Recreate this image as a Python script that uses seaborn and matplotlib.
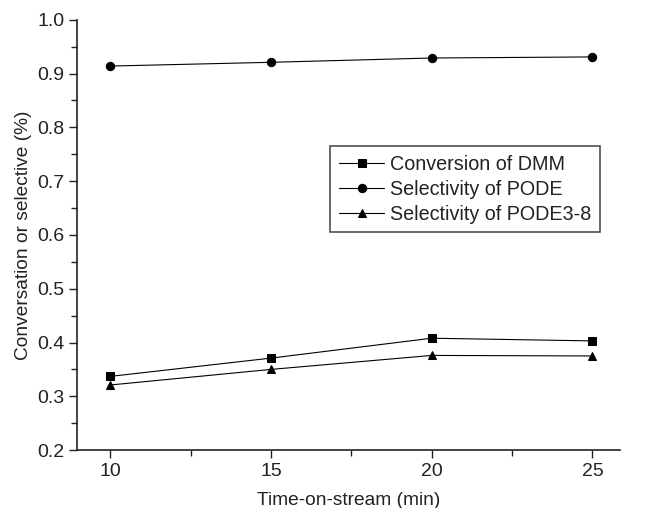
import matplotlib
matplotlib.use("Agg")
import matplotlib.pyplot as plt
import seaborn as sns
import pandas as pd
from matplotlib.ticker import MultipleLocator

time_min = [10, 15, 20, 25]
conversion_dmm = [0.337, 0.371, 0.408, 0.403]
selectivity_pode = [0.914, 0.921, 0.929, 0.931]
selectivity_pode38 = [0.321, 0.350, 0.376, 0.375]
series_names = ["Conversion of DMM", "Selectivity of PODE", "Selectivity of PODE3-8"]

df = pd.concat([
    pd.DataFrame({"time": time_min, "value": conversion_dmm, "series": series_names[0]}),
    pd.DataFrame({"time": time_min, "value": selectivity_pode, "series": series_names[1]}),
    pd.DataFrame({"time": time_min, "value": selectivity_pode38, "series": series_names[2]}),
])

sns.set_theme(style="ticks")
plt.rcParams["font.family"] = ["Liberation Sans", "DejaVu Sans"]

fig = plt.figure(figsize=(6.47, 5.08), dpi=100)
ax = fig.add_axes([0.119, 0.114, 0.839, 0.847])

sns.lineplot(data=df, x="time", y="value", hue="series", style="series",
             hue_order=series_names, style_order=series_names,
             palette=["black"] * 3, markers={series_names[0]: "s", series_names[1]: "o", series_names[2]: "^"},
             dashes=False, markersize=6, markeredgecolor="black", linewidth=0.8, ax=ax)

ax.set_xlim(8.97, 25.85)
ax.set_ylim(0.2, 1.0)
ax.xaxis.set_major_locator(MultipleLocator(5))
ax.xaxis.set_minor_locator(MultipleLocator(2.5))
ax.yaxis.set_major_locator(MultipleLocator(0.1))
ax.yaxis.set_minor_locator(MultipleLocator(0.05))
ax.set_xticks([10, 15, 20, 25])
ax.set_xlim(8.97, 25.85)
ax.tick_params(which="major", direction="out", length=6, width=1, labelsize=14, colors="#222222", pad=3)
ax.tick_params(which="minor", direction="out", length=4, width=1, colors="#222222")
for s in ["left", "bottom"]:
    ax.spines[s].set_linewidth(1.2)
    ax.spines[s].set_color("#222222")
sns.despine(ax=ax)

ax.set_xlabel("Time-on-stream (min)", fontsize=13.8, labelpad=9, color="#222222")
ax.set_ylabel("Conversation or selective (%)", fontsize=13.8, labelpad=4, color="#222222")

leg = ax.legend(loc="upper left", bbox_to_anchor=(0.448, 0.730), frameon=True, fancybox=False,
                edgecolor="#222222", fontsize=14.2, handlelength=2.3, handletextpad=0.3,
                labelspacing=0.3, borderpad=0.45)
leg.get_frame().set_linewidth(1.2)
for t in leg.get_texts():
    t.set_color("#222222")

fig.savefig("out.png", dpi=100)
